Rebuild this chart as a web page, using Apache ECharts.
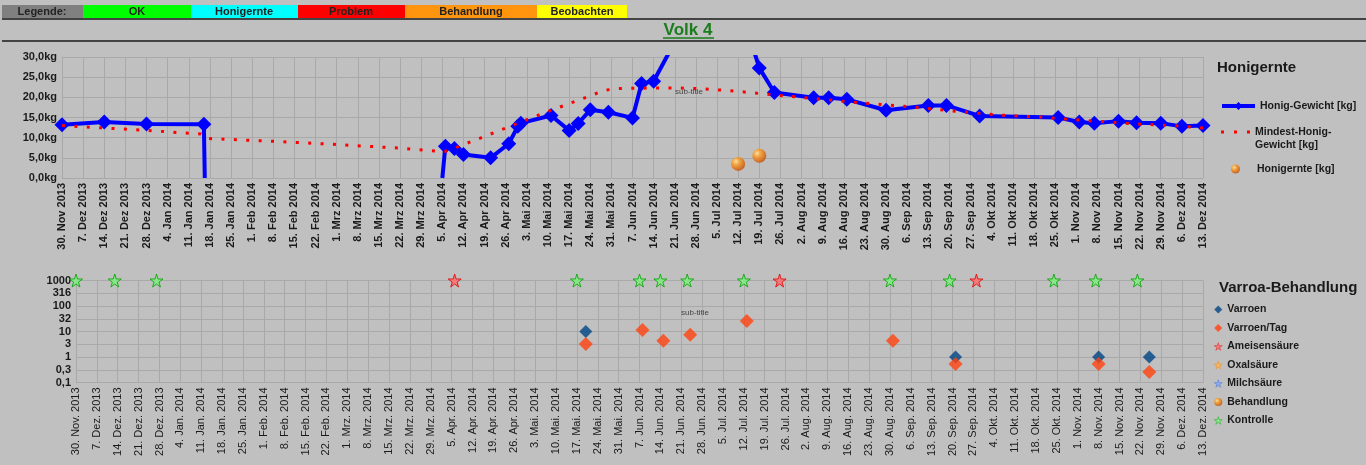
<!DOCTYPE html>
<html>
<head>
<meta charset="utf-8">
<script src="https://cdn.jsdelivr.net/npm/echarts/dist/echarts.min.js"></script>
<style>
  html, body { margin: 0; padding: 0; background: #c0c0c0; }
  #chart { width: 1366px; height: 465px; }
</style>
</head>
<body>
<div id="chart"></div>
<script>
// Tage seit 30. Nov 2013
var startDate = Date.UTC(2013, 10, 30);
var lastDay = 378;
var monthNames = ['Jan', 'Feb', 'Mrz', 'Apr', 'Mai', 'Jun', 'Jul', 'Aug', 'Sep', 'Okt', 'Nov', 'Dez'];
var logTicks = [0.1, 0.3, 1, 3, 10, 32, 100, 316, 1000];

// Honig-Gewicht [kg]  (null = Lücke)
var weightDays = [0, 14, 28, 47, 47.3, 90, 126, 127, 130, 133, 142, 148, 151, 152, 162, 168, 171, 175, 181, 189, 192, 196, 219, 231, 236, 249, 254, 260, 273, 287, 293, 304, 330, 337, 342, 350, 356, 364, 371, 378];
var weightVals = [13.2, 13.9, 13.4, 13.3, 0, null, 0, 7.9, 7.3, 5.8, 5.0, 8.5, 12.8, 13.6, 15.5, 11.8, 13.5, 16.9, 16.3, 14.9, 23.4, 24.0, 56, 27.3, 21.2, 19.9, 19.9, 19.5, 16.8, 18.0, 18.0, 15.4, 15.0, 13.9, 13.6, 14.1, 13.7, 13.6, 12.8, 13.0];

// Mindest-Honig-Gewicht [kg]
var minDays = [0, 14, 28, 46, 48, 70, 91, 112, 125, 127, 131, 141, 150, 160, 170, 180, 185, 195, 205, 213, 225, 233, 246, 262, 279, 295, 311, 324, 340, 356, 370, 378];
var minVals = [13.0, 12.4, 11.8, 10.9, 9.8, 9.1, 8.3, 7.4, 6.6, 6.6, 7.7, 10.6, 13.3, 16.2, 19.0, 21.8, 22.2, 22.3, 22.3, 22.1, 21.4, 20.8, 19.9, 18.8, 17.8, 16.6, 15.6, 15.1, 14.2, 13.4, 12.9, 12.4];

// Honigernte [kg]
var harvestDays = [224, 231];
var harvestVals = [3.5, 5.5];

// Varroa
var varroenDays = [171, 295, 343, 360];
var varroenVals = [10, 1, 1, 1];
var perDayDays = [171, 190, 197, 206, 225, 274, 295, 343, 360];
var perDayVals = [3.2, 11.5, 4.3, 7.5, 26, 4.3, 0.53, 0.53, 0.26];
var formicDays = [127, 236, 302];
var controlDays = [0, 13, 27, 168, 189, 196, 205, 224, 273, 293, 328, 342, 356];
var markerLevel = 1000;

function pairs(xs, ys) {
  return xs.map(function (x, i) { return [x, ys[i]]; });
}

function dateLabel(v, dot) {
  var d = new Date(startDate + v * 86400000);
  return d.getUTCDate() + '. ' + monthNames[d.getUTCMonth()] + (dot ? '.' : '') + ' ' + d.getUTCFullYear();
}

var weightData = weightDays.map(function (x, i) {
  var y = weightVals[i];
  if (y === null) return [x, '-'];
  if (y === 0) return { value: [x, 0], symbol: 'none' };
  return [x, y];
});

var star = 'path://M50,0 L61,35 L98,35 L68,57 L79,91 L50,70 L21,91 L32,57 L2,35 L39,35 Z';
var dots = 'path://M0,0h3v3h-3z M13,0h3v3h-3z M26,0h3v3h-3z';
var ball = {
  type: 'radial', x: 0.35, y: 0.32, r: 0.75,
  colorStops: [
    { offset: 0, color: '#ffe9a0' },
    { offset: 0.35, color: '#ff9b1e' },
    { offset: 1, color: '#c04400' }
  ]
};

var gridColor = '#a9a9a9';
var textColor = '#1a1a1a';
var legendText = { fontSize: 10.5, fontWeight: 'bold', color: textColor, lineHeight: 13 };

var myChart = echarts.init(document.getElementById('chart'));

var option = {
  backgroundColor: '#c0c0c0',
  animation: false,
  textStyle: { fontFamily: 'Liberation Sans, Arial, sans-serif' },
  title: [
    { text: 'Honigernte', left: 1217, top: 60, padding: 0, textStyle: { fontSize: 15, fontWeight: 'bold', color: textColor } },
    { text: 'Varroa-Behandlung', left: 1219, top: 280.5, padding: 0, textStyle: { fontSize: 15, fontWeight: 'bold', color: textColor } },
    { text: 'sub-title', left: 675, top: 88, padding: 0, textStyle: { fontSize: 8, fontWeight: 'normal', color: '#444' } },
    { text: 'sub-title', left: 681, top: 308.5, padding: 0, textStyle: { fontSize: 8, fontWeight: 'normal', color: '#444' } }
  ],
  graphic: [
    { type: 'rect', shape: { x: 2, y: 5, width: 81, height: 13 }, style: { fill: '#808080' } },
    { type: 'rect', shape: { x: 83, y: 5, width: 108, height: 13 }, style: { fill: '#00ff00' } },
    { type: 'rect', shape: { x: 191, y: 5, width: 107, height: 13 }, style: { fill: '#00ffff' } },
    { type: 'rect', shape: { x: 298, y: 5, width: 107, height: 13 }, style: { fill: '#ff0000' } },
    { type: 'rect', shape: { x: 405, y: 5, width: 132, height: 13 }, style: { fill: '#ff950e' } },
    { type: 'rect', shape: { x: 537, y: 5, width: 90, height: 13 }, style: { fill: '#ffff00' } },
    { type: 'text', x: 42, y: 11.5, style: { text: 'Legende:', font: 'bold 11px Liberation Sans', fill: '#222', align: 'center', verticalAlign: 'middle' } },
    { type: 'text', x: 137, y: 11.5, style: { text: 'OK', font: 'bold 11px Liberation Sans', fill: '#222', align: 'center', verticalAlign: 'middle' } },
    { type: 'text', x: 244, y: 11.5, style: { text: 'Honigernte', font: 'bold 11px Liberation Sans', fill: '#222', align: 'center', verticalAlign: 'middle' } },
    { type: 'text', x: 351, y: 11.5, style: { text: 'Problem', font: 'bold 11px Liberation Sans', fill: '#222', align: 'center', verticalAlign: 'middle' } },
    { type: 'text', x: 471, y: 11.5, style: { text: 'Behandlung', font: 'bold 11px Liberation Sans', fill: '#222', align: 'center', verticalAlign: 'middle' } },
    { type: 'text', x: 582, y: 11.5, style: { text: 'Beobachten', font: 'bold 11px Liberation Sans', fill: '#222', align: 'center', verticalAlign: 'middle' } },
    { type: 'line', shape: { x1: 2, y1: 19, x2: 1366, y2: 19 }, style: { stroke: '#1a1a1a', lineWidth: 1.5 } },
    { type: 'line', shape: { x1: 2, y1: 41, x2: 1366, y2: 41 }, style: { stroke: '#1a1a1a', lineWidth: 1.5 } },
    { type: 'text', x: 688, y: 30, style: { text: 'Volk 4', font: 'bold 17px Liberation Sans', fill: '#1b7d1b', align: 'center', verticalAlign: 'middle' } },
    { type: 'line', shape: { x1: 663, y1: 38, x2: 714, y2: 38 }, style: { stroke: '#1b7d1b', lineWidth: 1.5 } }
  ],
  legend: [
    {
      data: ['Honig-Gewicht [kg]'], left: 1220, top: 99.5, padding: 0, itemWidth: 33, itemHeight: 10,
      lineStyle: { width: 4 },
      textStyle: legendText
    },
    {
      data: [{ name: 'Mindest-Honig-Gewicht [kg]', icon: dots }], left: 1221, top: 112.5, padding: 0,
      itemWidth: 29, itemHeight: 3, itemGap: 0,
      formatter: function () { return ' \nMindest-Honig-\nGewicht [kg]'; },
      textStyle: legendText
    },
    {
      data: ['Honigernte [kg]'], left: 1231, top: 162.5, padding: 0, itemWidth: 33, itemHeight: 9,
      textStyle: legendText
    },
    {
      data: ['Varroen', 'Varroen/Tag', 'Ameisensäure', 'Oxalsäure', 'Milchsäure', 'Behandlung', 'Kontrolle'],
      orient: 'vertical', left: 1214, top: 303, padding: 0, itemWidth: 8, itemHeight: 8, itemGap: 5.5,
      itemStyle: { borderWidth: 0.5 },
      textStyle: legendText
    }
  ],
  grid: [
    { left: 62, right: 163, top: 57, height: 121 },
    { left: 76, right: 163, top: 280.5, height: 102 }
  ],
  xAxis: [
    {
      type: 'value', gridIndex: 0, min: 0, max: lastDay, interval: 7,
      axisLine: { lineStyle: { color: gridColor } },
      axisTick: { show: false },
      splitLine: { lineStyle: { color: gridColor } },
      axisLabel: {
        rotate: 90, fontSize: 11, fontWeight: 'bold', color: textColor, margin: 5,
        formatter: function (v) { return dateLabel(v, false); }
      }
    },
    {
      type: 'value', gridIndex: 1, min: 0, max: lastDay, interval: 7,
      axisLine: { lineStyle: { color: gridColor } },
      axisTick: { show: false },
      splitLine: { lineStyle: { color: gridColor } },
      axisLabel: {
        rotate: 90, fontSize: 11, color: textColor, margin: 5,
        formatter: function (v) { return dateLabel(v, true); }
      }
    }
  ],
  yAxis: [
    {
      type: 'value', gridIndex: 0, min: 0, max: 30, interval: 5,
      axisLine: { show: true, lineStyle: { color: gridColor } },
      axisTick: { show: false },
      splitLine: { lineStyle: { color: gridColor } },
      axisLabel: {
        fontSize: 11, fontWeight: 'bold', color: textColor, margin: 5,
        formatter: function (v) { return v.toFixed(1).replace('.', ',') + 'kg'; }
      }
    },
    {
      type: 'log', gridIndex: 1, logBase: Math.sqrt(10), min: 0.1, max: 1000,
      axisLine: { show: true, lineStyle: { color: gridColor } },
      axisTick: { show: false },
      splitLine: { lineStyle: { color: gridColor } },
      axisLabel: {
        fontSize: 11, fontWeight: 'bold', color: textColor, margin: 5,
        formatter: function (v) {
          var best = logTicks[0];
          logTicks.forEach(function (t) { if (Math.abs(Math.log(t / v)) < Math.abs(Math.log(best / v))) best = t; });
          return String(best).replace('.', ',');
        }
      }
    }
  ],
  series: [
    {
      name: 'Honig-Gewicht [kg]', type: 'line', xAxisIndex: 0, yAxisIndex: 0,
      data: weightData, symbol: 'diamond', symbolSize: 15, connectNulls: false,
      lineStyle: { color: '#0000ff', width: 4 }, itemStyle: { color: '#0000ff' }, z: 3
    },
    {
      name: 'Mindest-Honig-Gewicht [kg]', type: 'line', xAxisIndex: 0, yAxisIndex: 0,
      data: pairs(minDays, minVals), symbol: 'none',
      lineStyle: { color: '#ff0000', width: 3, type: [3, 9.4], cap: 'butt' },
      itemStyle: { color: '#ff0000' }, z: 4
    },
    {
      name: 'Honigernte [kg]', type: 'scatter', xAxisIndex: 0, yAxisIndex: 0,
      data: pairs(harvestDays, harvestVals), symbol: 'circle', symbolSize: 14,
      itemStyle: { color: ball }, z: 5
    },
    {
      name: 'Varroen', type: 'scatter', xAxisIndex: 1, yAxisIndex: 1,
      data: pairs(varroenDays, varroenVals), symbol: 'diamond', symbolSize: 13,
      itemStyle: { color: '#004586' }
    },
    {
      name: 'Varroen/Tag', type: 'scatter', xAxisIndex: 1, yAxisIndex: 1,
      data: pairs(perDayDays, perDayVals), symbol: 'diamond', symbolSize: 14,
      itemStyle: { color: '#ff420e' }
    },
    {
      name: 'Ameisensäure', type: 'scatter', xAxisIndex: 1, yAxisIndex: 1,
      data: formicDays.map(function (d) { return [d, markerLevel]; }), symbol: star, symbolSize: 13,
      itemStyle: { color: '#ff6b6b', borderColor: '#e00000', borderWidth: 1 }
    },
    {
      name: 'Oxalsäure', type: 'scatter', xAxisIndex: 1, yAxisIndex: 1,
      data: [], symbol: star, symbolSize: 13,
      itemStyle: { color: '#ffb347', borderColor: '#ff8000', borderWidth: 1 }
    },
    {
      name: 'Milchsäure', type: 'scatter', xAxisIndex: 1, yAxisIndex: 1,
      data: [], symbol: star, symbolSize: 13,
      itemStyle: { color: '#7fa8ff', borderColor: '#3366cc', borderWidth: 1 }
    },
    {
      name: 'Behandlung', type: 'scatter', xAxisIndex: 1, yAxisIndex: 1,
      data: [], symbol: 'circle', symbolSize: 13,
      itemStyle: { color: ball }
    },
    {
      name: 'Kontrolle', type: 'scatter', xAxisIndex: 1, yAxisIndex: 1,
      data: controlDays.map(function (d) { return [d, markerLevel]; }), symbol: star, symbolSize: 13,
      itemStyle: { color: '#7cf07c', borderColor: '#00a000', borderWidth: 1 }
    }
  ]
};

myChart.setOption(option);

window.onresize = function () {
  myChart.resize();
};
</script>
</body>
</html>
